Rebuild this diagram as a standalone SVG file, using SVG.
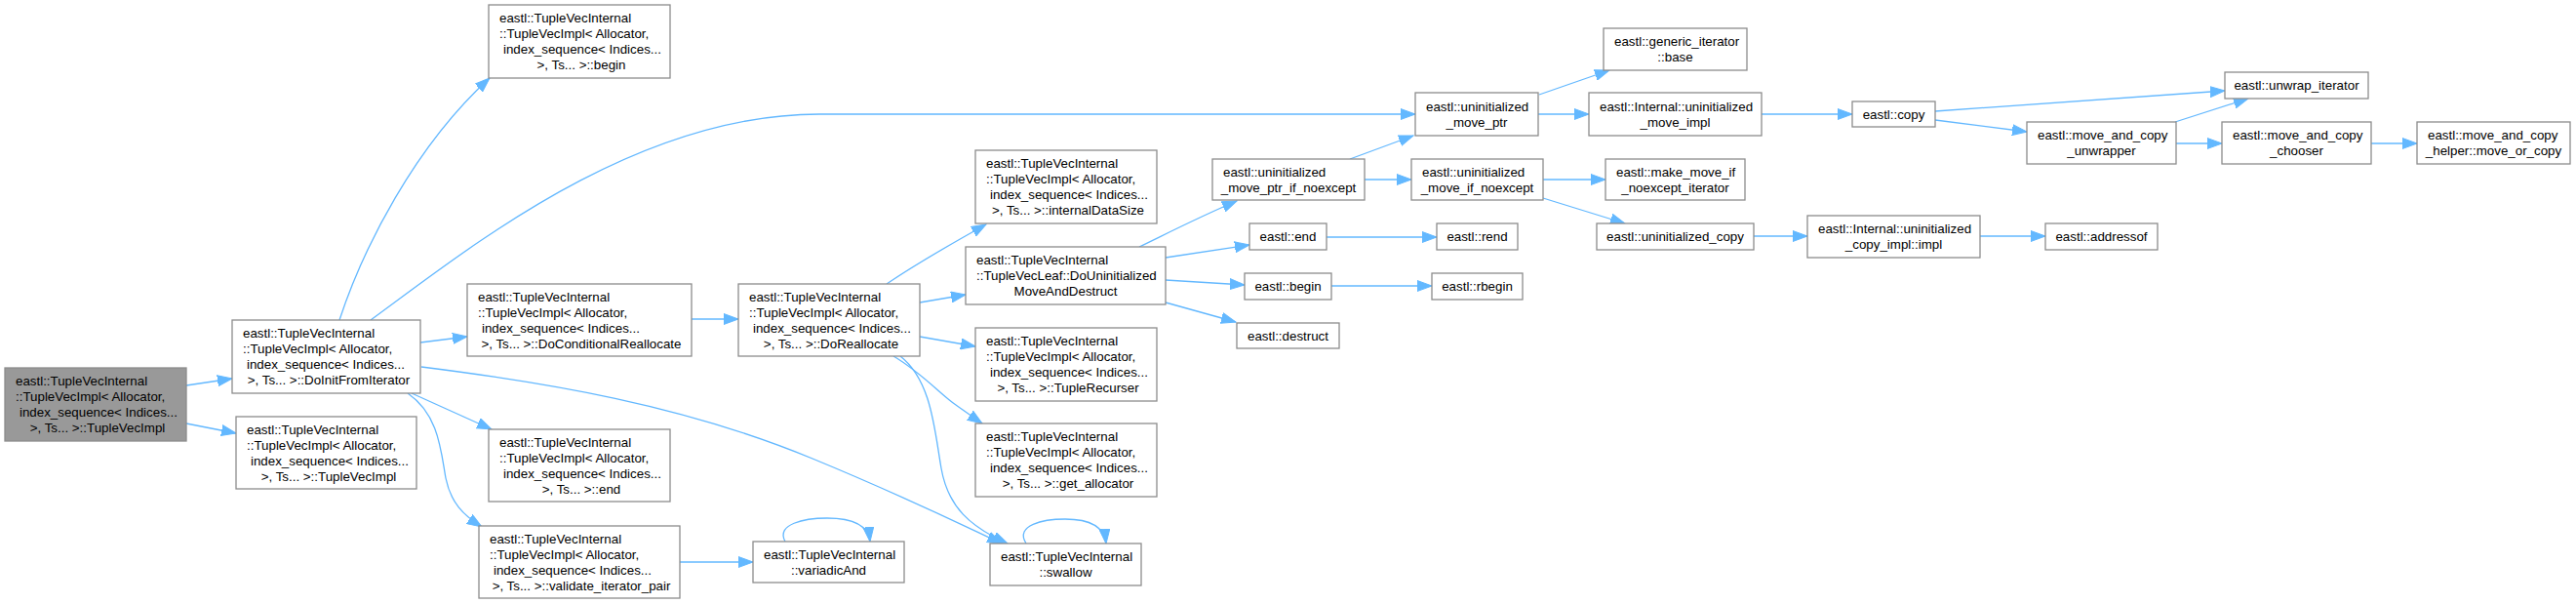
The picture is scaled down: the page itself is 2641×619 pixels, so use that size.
<svg xmlns="http://www.w3.org/2000/svg" width="2641" height="619" viewBox="0 0 2641 619">
<style>
.n rect{fill:#fff;stroke:#8c8c8c;stroke-width:1.3}
.n.root rect{fill:#999}
text{font-family:"Liberation Sans",Arial,sans-serif;font-size:13.33px;fill:#000}
.c{text-anchor:middle}
#edges path{fill:none;stroke:#63b8ff;stroke-width:1.3;marker-end:url(#a)}
</style>
<defs>
<marker id="a" markerUnits="userSpaceOnUse" markerWidth="16" markerHeight="12" refX="15" refY="6" orient="auto"><path d="M0,0.5 L15,6 L0,11.5 z" fill="#63b8ff" stroke="#63b8ff" stroke-width="1"/></marker>
</defs>
<rect width="2641" height="619" fill="#fff"/>
<g id="edges">
<path d="M191,395 L238,388"/>
<path d="M191,434 L242,444"/>
<path d="M348,328 C372,255 425,150 502,80"/>
<path d="M380,328 C480,255 650,117 840,117 L1451,117"/>
<path d="M431,351 L479,345"/>
<path d="M422,403 L504,440"/>
<path d="M418,403 C450,425 452,462 457,490 C462,515 475,528 494,540"/>
<path d="M432,376 C560,392 700,415 833,470 C930,510 980,535 1027,557"/>
<path d="M709,327 L757,327"/>
<path d="M909,291 C940,270 975,250 1011,230"/>
<path d="M943,310 L990,302"/>
<path d="M943,345 L1000,355"/>
<path d="M916,365 C945,382 965,405 980,415 C990,422 998,428 1007,434"/>
<path d="M923,365 C955,390 958,440 965,480 C972,520 995,540 1033,557"/>
<path d="M1052,557 C1040,538 1070,532 1092,532 C1115,532 1132,538 1134,557"/>
<path d="M805,555 C795,537 825,531 848,531 C872,531 890,537 892,555"/>
<path d="M697,576 L772,576"/>
<path d="M1168,253 C1195,240 1230,222 1268,206"/>
<path d="M1195,264 L1281,251"/>
<path d="M1195,287 L1276,292"/>
<path d="M1195,310 L1267,330"/>
<path d="M1384,163 L1449,139"/>
<path d="M1399,184 L1447,184"/>
<path d="M1578,97 L1650,72"/>
<path d="M1577,117 L1629,117"/>
<path d="M1806,117 L1899,117"/>
<path d="M1984,114 L2281,93"/>
<path d="M1984,123 L2078,135"/>
<path d="M2230,125 L2305,101"/>
<path d="M2231,147 L2278,147"/>
<path d="M2431,147 L2478,147"/>
<path d="M1582,184 L1646,184"/>
<path d="M1582,203 L1666,229"/>
<path d="M1360,243 L1473,243"/>
<path d="M1365,293 L1468,293"/>
<path d="M1798,242 L1853,242"/>
<path d="M2030,242 L2097,242"/>
</g>
<g id="root" class="n root"><rect x="5" y="377" width="186" height="75"/>
<text x="16" y="395">eastl::TupleVecInternal</text><text x="16" y="411">::TupleVecImpl&lt; Allocator,</text><text x="20" y="427">index_sequence&lt; Indices...</text><text class="c" x="100" y="443">&gt;, Ts... &gt;::TupleVecImpl</text></g>
<g id="dofi" class="n"><rect x="238" y="328" width="193" height="75"/>
<text x="249" y="346">eastl::TupleVecInternal</text><text x="249" y="362">::TupleVecImpl&lt; Allocator,</text><text x="253" y="378">index_sequence&lt; Indices...</text><text class="c" x="337" y="394">&gt;, Ts... &gt;::DoInitFromIterator</text></g>
<g id="tvi2" class="n"><rect x="242" y="427" width="185" height="74"/>
<text x="253" y="444.5">eastl::TupleVecInternal</text><text x="253" y="460.5">::TupleVecImpl&lt; Allocator,</text><text x="257" y="476.5">index_sequence&lt; Indices...</text><text class="c" x="337" y="492.5">&gt;, Ts... &gt;::TupleVecImpl</text></g>
<g id="begin_tv" class="n"><rect x="501" y="5" width="186" height="75"/>
<text x="512" y="23">eastl::TupleVecInternal</text><text x="512" y="39">::TupleVecImpl&lt; Allocator,</text><text x="516" y="55">index_sequence&lt; Indices...</text><text class="c" x="596" y="71">&gt;, Ts... &gt;::begin</text></g>
<g id="docond" class="n"><rect x="479" y="291" width="230" height="74"/>
<text x="490" y="308.5">eastl::TupleVecInternal</text><text x="490" y="324.5">::TupleVecImpl&lt; Allocator,</text><text x="494" y="340.5">index_sequence&lt; Indices...</text><text class="c" x="596" y="356.5">&gt;, Ts... &gt;::DoConditionalReallocate</text></g>
<g id="end_tv" class="n"><rect x="501" y="440" width="186" height="74"/>
<text x="512" y="457.5">eastl::TupleVecInternal</text><text x="512" y="473.5">::TupleVecImpl&lt; Allocator,</text><text x="516" y="489.5">index_sequence&lt; Indices...</text><text class="c" x="596" y="505.5">&gt;, Ts... &gt;::end</text></g>
<g id="validate" class="n"><rect x="491" y="539" width="206" height="74"/>
<text x="502" y="556.5">eastl::TupleVecInternal</text><text x="502" y="572.5">::TupleVecImpl&lt; Allocator,</text><text x="506" y="588.5">index_sequence&lt; Indices...</text><text class="c" x="596" y="604.5">&gt;, Ts... &gt;::validate_iterator_pair</text></g>
<g id="variadicAnd" class="n"><rect x="772" y="555" width="155" height="42"/>
<text x="783" y="572.5">eastl::TupleVecInternal</text><text class="c" x="849.5" y="588.5">::variadicAnd</text></g>
<g id="dorealloc" class="n"><rect x="757" y="291" width="186" height="74"/>
<text x="768" y="308.5">eastl::TupleVecInternal</text><text x="768" y="324.5">::TupleVecImpl&lt; Allocator,</text><text x="772" y="340.5">index_sequence&lt; Indices...</text><text class="c" x="852" y="356.5">&gt;, Ts... &gt;::DoReallocate</text></g>
<g id="internalDataSize" class="n"><rect x="1000" y="154" width="186" height="75"/>
<text x="1011" y="172">eastl::TupleVecInternal</text><text x="1011" y="188">::TupleVecImpl&lt; Allocator,</text><text x="1015" y="204">index_sequence&lt; Indices...</text><text class="c" x="1095" y="220">&gt;, Ts... &gt;::internalDataSize</text></g>
<g id="douninit" class="n"><rect x="990" y="253" width="205" height="59"/>
<text x="1001" y="271">eastl::TupleVecInternal</text><text x="1001" y="287">::TupleVecLeaf::DoUninitialized</text><text class="c" x="1092.5" y="303">MoveAndDestruct</text></g>
<g id="tuplerecurser" class="n"><rect x="1000" y="336" width="186" height="75"/>
<text x="1011" y="354">eastl::TupleVecInternal</text><text x="1011" y="370">::TupleVecImpl&lt; Allocator,</text><text x="1015" y="386">index_sequence&lt; Indices...</text><text class="c" x="1095" y="402">&gt;, Ts... &gt;::TupleRecurser</text></g>
<g id="get_allocator" class="n"><rect x="1000" y="434" width="186" height="75"/>
<text x="1011" y="452">eastl::TupleVecInternal</text><text x="1011" y="468">::TupleVecImpl&lt; Allocator,</text><text x="1015" y="484">index_sequence&lt; Indices...</text><text class="c" x="1095" y="500">&gt;, Ts... &gt;::get_allocator</text></g>
<g id="swallow" class="n"><rect x="1015" y="557" width="155" height="43"/>
<text x="1026" y="575">eastl::TupleVecInternal</text><text class="c" x="1092.5" y="591">::swallow</text></g>
<g id="umpin" class="n"><rect x="1243" y="163" width="156" height="42"/>
<text x="1254" y="180.5">eastl::uninitialized</text><text class="c" x="1321" y="196.5">_move_ptr_if_noexcept</text></g>
<g id="eastl_end" class="n"><rect x="1281" y="229" width="79" height="27"/>
<text class="c" x="1320.5" y="247">eastl::end</text></g>
<g id="eastl_begin" class="n"><rect x="1276" y="280" width="89" height="27"/>
<text class="c" x="1320.5" y="298">eastl::begin</text></g>
<g id="destruct" class="n"><rect x="1268" y="331" width="105" height="26"/>
<text class="c" x="1320.5" y="348.5">eastl::destruct</text></g>
<g id="ump" class="n"><rect x="1451" y="95" width="126" height="44"/>
<text x="1462" y="113.5">eastl::uninitialized</text><text class="c" x="1514" y="129.5">_move_ptr</text></g>
<g id="umin" class="n"><rect x="1447" y="163" width="135" height="42"/>
<text x="1458" y="180.5">eastl::uninitialized</text><text class="c" x="1514.5" y="196.5">_move_if_noexcept</text></g>
<g id="rend" class="n"><rect x="1473" y="229" width="83" height="27"/>
<text class="c" x="1514.5" y="247">eastl::rend</text></g>
<g id="rbegin" class="n"><rect x="1468" y="280" width="93" height="27"/>
<text class="c" x="1514.5" y="298">eastl::rbegin</text></g>
<g id="gib" class="n"><rect x="1644" y="29" width="147" height="43"/>
<text x="1655" y="47">eastl::generic_iterator</text><text class="c" x="1717.5" y="63">::base</text></g>
<g id="mimpl" class="n"><rect x="1629" y="95" width="177" height="44"/>
<text x="1640" y="113.5">eastl::Internal::uninitialized</text><text class="c" x="1717.5" y="129.5">_move_impl</text></g>
<g id="mmi" class="n"><rect x="1646" y="163" width="143" height="42"/>
<text x="1657" y="180.5">eastl::make_move_if</text><text class="c" x="1717.5" y="196.5">_noexcept_iterator</text></g>
<g id="ucopy" class="n"><rect x="1637" y="229" width="161" height="27"/>
<text class="c" x="1717.5" y="247">eastl::uninitialized_copy</text></g>
<g id="copyimpl" class="n"><rect x="1853" y="221" width="177" height="43"/>
<text x="1864" y="239">eastl::Internal::uninitialized</text><text class="c" x="1941.5" y="255">_copy_impl::impl</text></g>
<g id="copy" class="n"><rect x="1899" y="104" width="85" height="26"/>
<text class="c" x="1941.5" y="121.5">eastl::copy</text></g>
<g id="addressof" class="n"><rect x="2097" y="229" width="115" height="27"/>
<text class="c" x="2154.5" y="247">eastl::addressof</text></g>
<g id="unwrapper" class="n"><rect x="2078" y="125" width="153" height="43"/>
<text x="2089" y="143">eastl::move_and_copy</text><text class="c" x="2154.5" y="159">_unwrapper</text></g>
<g id="unwrap_iterator" class="n"><rect x="2281" y="74" width="147" height="27"/>
<text class="c" x="2354.5" y="92">eastl::unwrap_iterator</text></g>
<g id="chooser" class="n"><rect x="2278" y="125" width="153" height="43"/>
<text x="2289" y="143">eastl::move_and_copy</text><text class="c" x="2354.5" y="159">_chooser</text></g>
<g id="helper" class="n"><rect x="2478" y="125" width="157" height="43"/>
<text x="2489" y="143">eastl::move_and_copy</text><text class="c" x="2556.5" y="159">_helper::move_or_copy</text></g>
</svg>
